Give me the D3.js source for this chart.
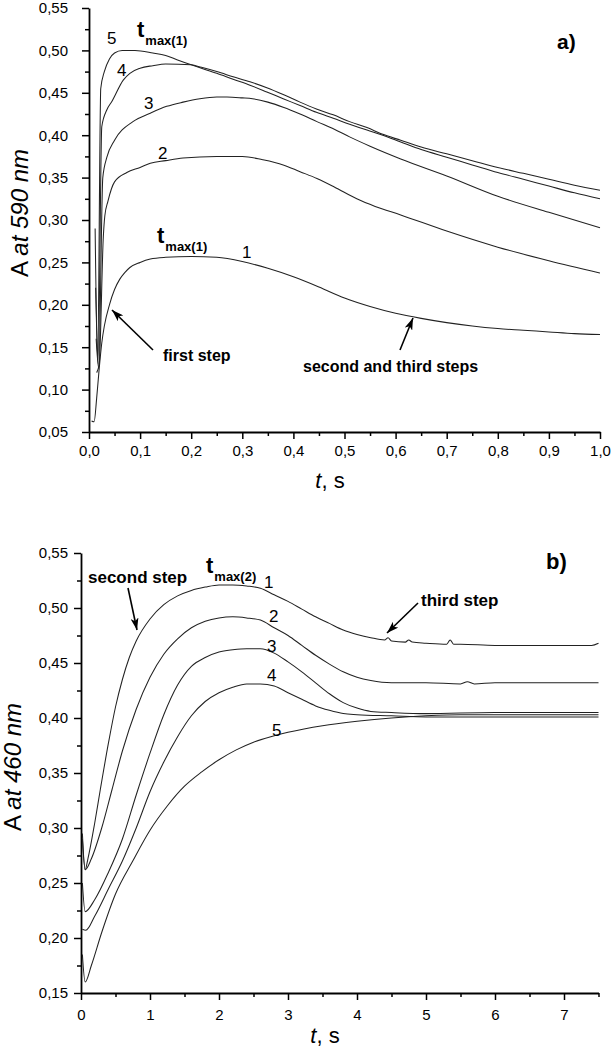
<!DOCTYPE html>
<html><head><meta charset="utf-8">
<script src="https://cdn.jsdelivr.net/npm/d3@7"></script>
<style>
body{margin:0;background:#fff}
svg{display:block}
text{font-family:"Liberation Sans",Arial,sans-serif;fill:#000}
</style>
</head><body>
<svg id="c" width="615" height="1050"></svg>
<script>
// ---------- Panel a) A at 590 nm, t 0..1 s ----------
const aXTicks = [0,0.1,0.2,0.3,0.4,0.5,0.6,0.7,0.8,0.9,1.0];
const aXMinor = [0.05,0.15,0.25,0.35,0.45,0.55,0.65,0.75,0.85,0.95];
const aYTicks = [0.05,0.10,0.15,0.20,0.25,0.30,0.35,0.40,0.45,0.50,0.55];
const aYMinor = [0.075,0.125,0.175,0.225,0.275,0.325,0.375,0.425,0.475,0.525];

const aCurve1 = [[0.005,0.063],[0.010,0.062],[0.015,0.09],[0.020,0.125],[0.025,0.155],[0.030,0.175],[0.040,0.200],[0.050,0.218],[0.060,0.230],[0.070,0.238],[0.080,0.244],[0.100,0.250],[0.120,0.254],[0.150,0.256],[0.200,0.257],[0.250,0.256],[0.300,0.251],[0.350,0.243],[0.400,0.233],[0.450,0.221],[0.500,0.208],[0.550,0.198],[0.600,0.190],[0.650,0.184],[0.700,0.179],[0.750,0.175],[0.800,0.172],[0.850,0.170],[0.900,0.168],[0.950,0.166],[1.000,0.165]];
const aCurve2 = [[0.015,0.12],[0.020,0.13],[0.028,0.28],[0.031,0.305],[0.037,0.322],[0.050,0.345],[0.074,0.356],[0.100,0.362],[0.120,0.367],[0.150,0.370],[0.184,0.373],[0.250,0.375],[0.300,0.375],[0.340,0.371],[0.380,0.365],[0.413,0.357],[0.446,0.349],[0.480,0.339],[0.524,0.325],[0.560,0.316],[0.610,0.306],[0.700,0.287],[0.800,0.268],[0.900,0.252],[1.000,0.2375]];
const aCurve3 = [[0.014,0.16],[0.019,0.125],[0.027,0.35],[0.035,0.374],[0.050,0.394],[0.086,0.416],[0.120,0.426],[0.152,0.434],[0.184,0.439],[0.217,0.443],[0.250,0.445],[0.270,0.445],[0.300,0.444],[0.320,0.443],[0.350,0.439],[0.380,0.433],[0.413,0.425],[0.446,0.416],[0.480,0.407],[0.510,0.398],[0.550,0.387],[0.610,0.372],[0.700,0.352],[0.800,0.328],[0.900,0.309],[1.000,0.291]];
const aCurve4 = [[0.013,0.22],[0.018,0.13],[0.025,0.41],[0.035,0.43],[0.045,0.44],[0.067,0.465],[0.080,0.473],[0.100,0.479],[0.125,0.482],[0.150,0.484],[0.200,0.483],[0.220,0.480],[0.250,0.475],[0.282,0.469],[0.315,0.463],[0.348,0.456],[0.380,0.448],[0.413,0.439],[0.445,0.431],[0.478,0.424],[0.510,0.416],[0.544,0.409],[0.575,0.401],[0.610,0.394],[0.650,0.386],[0.700,0.378],[0.750,0.370],[0.800,0.362],[0.850,0.355],[0.900,0.348],[0.950,0.341],[1.000,0.335]];
const aCurve5 = [[0.012,0.29],[0.017,0.135],[0.023,0.455],[0.030,0.475],[0.040,0.490],[0.050,0.497],[0.065,0.500],[0.090,0.500],[0.125,0.497],[0.150,0.494],[0.172,0.489],[0.200,0.483],[0.220,0.479],[0.250,0.473],[0.282,0.466],[0.315,0.459],[0.348,0.451],[0.380,0.443],[0.413,0.435],[0.445,0.427],[0.478,0.420],[0.510,0.413],[0.544,0.406],[0.575,0.400],[0.610,0.392],[0.650,0.383],[0.700,0.374],[0.750,0.365],[0.800,0.356],[0.850,0.348],[0.900,0.340],[0.950,0.332],[1.000,0.325]];
const aCurves = [aCurve1,aCurve2,aCurve3,aCurve4,aCurve5];

// ---------- Panel b) A at 460 nm, t 0..7.5 s ----------
const bXTicks = [0,1,2,3,4,5,6,7];
const bXMinor = [0.5,1.5,2.5,3.5,4.5,5.5,6.5,7.5];
const bYTicks = [0.15,0.20,0.25,0.30,0.35,0.40,0.45,0.50,0.55];
const bYMinor = [0.175,0.225,0.275,0.325,0.375,0.425,0.475,0.525];

const bCurve1 = [[0.02,0.295],[0.06,0.262],[0.10,0.272],[0.20,0.305],[0.28,0.335],[0.40,0.378],[0.50,0.410],[0.60,0.435],[0.70,0.455],[0.80,0.470],[1.00,0.490],[1.20,0.503],[1.40,0.511],[1.60,0.516],[1.80,0.519],[2.00,0.521],[2.20,0.521],[2.40,0.520],[2.60,0.518],[2.80,0.512],[3.00,0.506],[3.20,0.499],[3.40,0.492],[3.60,0.486],[3.80,0.480],[4.00,0.476],[4.20,0.473],[4.40,0.471],[4.45,0.473],[4.50,0.470],[4.70,0.469],[4.75,0.471],[4.80,0.469],[5.00,0.468],[5.30,0.467],[5.35,0.471],[5.40,0.467],[5.50,0.467],[6.00,0.466],[6.50,0.466],[7.00,0.466],[7.40,0.466],[7.50,0.468]];
const bCurve2 = [[0.02,0.290],[0.06,0.262],[0.15,0.272],[0.30,0.300],[0.45,0.335],[0.60,0.370],[0.80,0.408],[1.00,0.437],[1.20,0.458],[1.40,0.472],[1.60,0.482],[1.80,0.488],[2.00,0.491],[2.20,0.492],[2.40,0.491],[2.60,0.489],[2.80,0.482],[3.00,0.475],[3.20,0.466],[3.40,0.457],[3.60,0.449],[3.80,0.442],[4.00,0.437],[4.20,0.434],[4.50,0.432],[5.00,0.432],[5.50,0.431],[5.60,0.433],[5.70,0.431],[6.00,0.432],[7.00,0.432],[7.50,0.432]];
const bCurve3 = [[0.02,0.250],[0.06,0.224],[0.20,0.235],[0.40,0.260],[0.60,0.290],[0.80,0.330],[1.00,0.368],[1.20,0.403],[1.40,0.430],[1.60,0.447],[1.80,0.455],[2.00,0.460],[2.20,0.462],[2.40,0.463],[2.60,0.463],[2.80,0.459],[3.00,0.451],[3.20,0.442],[3.40,0.432],[3.60,0.422],[3.80,0.414],[4.00,0.409],[4.20,0.406],[4.50,0.405],[5.00,0.404],[6.00,0.405],[7.00,0.405],[7.50,0.405]];
const bCurve4 = [[0.02,0.208],[0.07,0.207],[0.20,0.220],[0.40,0.245],[0.60,0.270],[0.80,0.300],[1.00,0.333],[1.20,0.360],[1.40,0.383],[1.60,0.402],[1.80,0.415],[2.00,0.423],[2.20,0.428],[2.40,0.431],[2.60,0.431],[2.80,0.429],[3.00,0.423],[3.20,0.417],[3.40,0.411],[3.60,0.407],[3.80,0.404],[4.00,0.403],[4.50,0.402],[5.00,0.401],[6.00,0.401],[7.00,0.401],[7.50,0.401]];
const bCurve5 = [[0.02,0.185],[0.06,0.160],[0.15,0.175],[0.30,0.205],[0.50,0.240],[0.75,0.270],[1.00,0.298],[1.25,0.320],[1.50,0.338],[1.75,0.351],[2.00,0.362],[2.25,0.371],[2.50,0.378],[2.75,0.383],[3.00,0.387],[3.50,0.393],[4.00,0.397],[4.50,0.400],[5.00,0.402],[5.50,0.403],[6.00,0.403],[7.00,0.403],[7.50,0.403]];
const bCurves = [bCurve1,bCurve2,bCurve3,bCurve4,bCurve5];

// ---------- drawing ----------
const svg = d3.select("#c");
const fmt = d => d3.format(".2f")(d).replace(".", ",");
const fmtX1 = d => d3.format(".1f")(d).replace(".", ",");

const defs = svg.append("defs");
defs.append("marker").attr("id","ah").attr("viewBox","0 0 12 8")
  .attr("refX",12).attr("refY",4).attr("markerWidth",12).attr("markerHeight",8)
  .attr("markerUnits","userSpaceOnUse").attr("orient","auto")
  .append("path").attr("d","M0,0 L12,4 L0,8 L3,4 Z").attr("fill","#000");

function panel(o){
  const g = svg.append("g");
  const x = d3.scaleLinear().domain(o.xd).range([o.left,o.right]);
  const y = d3.scaleLinear().domain(o.yd).range([o.bottom,o.top]);
  g.append("g").attr("transform",`translate(0,${o.bottom})`)
    .call(d3.axisBottom(x).tickValues(o.xMinor).tickSize(4).tickSizeOuter(0).tickFormat(""))
    .call(s=>s.select(".domain").remove());
  g.append("g").attr("transform",`translate(${o.left},0)`)
    .call(d3.axisLeft(y).tickValues(o.yMinor).tickSize(4).tickSizeOuter(0).tickFormat(""))
    .call(s=>s.select(".domain").remove());
  g.append("g").attr("transform",`translate(0,${o.bottom})`)
    .call(d3.axisBottom(x).tickValues(o.xTicks).tickSize(7).tickSizeOuter(0).tickPadding(o.xPad).tickFormat(o.xFmt));
  g.append("g").attr("transform",`translate(${o.left},0)`)
    .call(d3.axisLeft(y).tickValues(o.yTicks).tickSize(7).tickSizeOuter(0).tickPadding(o.yPad).tickFormat(fmt));
  g.selectAll(".tick line").attr("stroke","#000").attr("stroke-width",1.5);
  g.selectAll(".domain").attr("stroke","#000").attr("stroke-width",1.8);
  g.selectAll(".tick text").attr("font-size",o.tickFs).attr("font-family","'Liberation Sans',Arial,sans-serif").attr("fill","#000");
  const line = d3.line().x(d=>x(d[0])).y(d=>y(d[1])).curve(d3.curveMonotoneX);
  g.selectAll("path.curve").data(o.curves).enter().append("path").attr("class","curve")
    .attr("d",line).attr("fill","none").attr("stroke","#222").attr("stroke-width",1.05);
  return {g,x,y};
}

panel({xd:[0,1],yd:[0.05,0.55],left:89,right:600,top:8,bottom:432,
  xTicks:aXTicks,xMinor:aXMinor,yTicks:aYTicks,yMinor:aYMinor,xFmt:fmtX1,xPad:6,yPad:14,tickFs:"15px",curves:aCurves});
panel({xd:[0,7.5],yd:[0.15,0.55],left:81,right:598.5,top:553,bottom:993,
  xTicks:bXTicks,xMinor:bXMinor,yTicks:bYTicks,yMinor:bYMinor,xFmt:d3.format("d"),xPad:9,yPad:6,tickFs:"15px",curves:bCurves});

function txt(x,y,s,fs,bold,anchor){
  return svg.append("text").attr("x",x).attr("y",y).attr("font-size",fs)
    .attr("font-weight",bold?"bold":"normal").attr("text-anchor",anchor||"start").text(s);
}
function tmax(x,y,sub){
  const t = svg.append("text").attr("x",x).attr("y",y).attr("font-weight","bold");
  t.append("tspan").attr("font-size","22px").text("t");
  t.append("tspan").attr("font-size","13px").attr("dy",8).attr("dx",1).text(sub);
}
function arrow(x1,y1,x2,y2){
  svg.append("line").attr("x1",x1).attr("y1",y1).attr("x2",x2).attr("y2",y2)
    .attr("stroke","#000").attr("stroke-width",1.6).attr("marker-end","url(#ah)");
}
function yTitle(cx,cy,wl){
  const t = svg.append("text").attr("transform",`translate(${cx},${cy}) rotate(-90)`)
    .attr("text-anchor","middle").attr("font-size","24px");
  t.append("tspan").text("A ");
  t.append("tspan").attr("font-style","italic").text(wl);
}
function xTitle(cx,cy){
  const t = svg.append("text").attr("x",cx).attr("y",cy).attr("text-anchor","middle").attr("font-size","22px");
  t.append("tspan").attr("font-style","italic").text("t");
  t.append("tspan").text(", s");
}

// panel a annotations
yTitle(28,213,"at 590 nm");
xTitle(330,488);
txt(107,44,"5","17px");
txt(117,76,"4","17px");
txt(144,109,"3","17px");
txt(158,159,"2","17px");
tmax(137,37,"max(1)");
tmax(157,243,"max(1)");
txt(242,258,"1","17px");
txt(163,361,"first step","16px",true);
arrow(153,350,112,310);
txt(303,372,"second and third steps","16px",true);
arrow(400,350,413,318);
txt(557,49,"a)","21px",true);

// panel b annotations
yTitle(21,767,"at 460 nm");
xTitle(325,1043);
txt(88,583,"second step","17px",true);
arrow(128,588,137,630);
tmax(206,573,"max(2)");
txt(264,588,"1","17px");
txt(269,622,"2","17px");
txt(267,652,"3","17px");
txt(267,681,"4","17px");
txt(272,736,"5","17px");
txt(421,606,"third step","17px",true);
arrow(418,603,387,633);
txt(546,569,"b)","22px",true);
</script>
</body></html>
